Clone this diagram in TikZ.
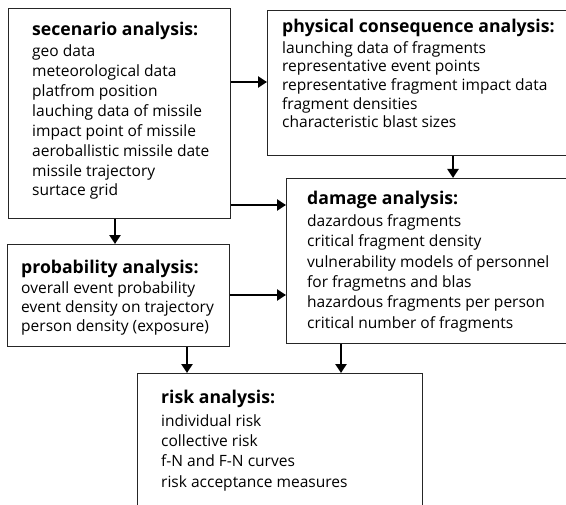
\documentclass[tikz,border=0pt]{standalone}
\usepackage{fontspec}
\setmainfont{Open Sans}
\usetikzlibrary{arrows.meta,calc}
\begin{document}
\begin{tikzpicture}[x=1bp,y=-1bp,
  box/.style={draw=black!85,line width=1.1bp,anchor=north west,inner sep=0pt},
  title/.style={anchor=base west,inner sep=0pt,font=\bfseries\fontsize{17.7}{20}\selectfont},
  % multi-line text: the base anchor sits on the last line
  body/.style={anchor=base west,inner sep=0pt,align=left,font=\fontsize{15.6}{#1}\selectfont},
  body/.default=20,
  arr/.style={line width=2.8bp,-{Triangle[width=11bp,length=9bp]}}]
\useasboundingbox (0,0) rectangle (566,505);
\clip (0,0) rectangle (566,505);

% boxes
\node[box,minimum width=222bp,minimum height=210bp] (scen) at (8,8) {};
\node[box,minimum width=320bp,minimum height=145bp] (phys) at (267,10) {};
\node[box,minimum width=300bp,minimum height=165bp] (dmg) at (286,178) {};
\node[box,minimum width=222bp,minimum height=102bp] (prob) at (7,244) {};
\node[box,minimum width=285bp,minimum height=150bp] (risk) at (137,373) {};

% texts
\node[title] (scenT) at (32,36) {secenario analysis:};
\node[body] (scenB) at (32,196) {geo data\\meteorological data\\platfrom position\\lauching data of missile\\impact point of missile\\aeroballistic missile date\\missile trajectory\\surtace grid};

\node[title] (physT) at (282,33) {physical consequence analysis:};
\node[body=18.75] (physB) at (282,128) {launching data of fragments\\representative event points\\representative fragment impact data\\fragment densities\\characteristic blast sizes};

\node[title] (dmgT) at (307,205) {damage analysis:};
\node[body=20.4] (dmgB) at (307,328) {dazardous fragments\\critical fragment density\\vulnerability models of personnel\\for fragmetns and blas\\hazardous fragments per person\\critical number of fragments};

\node[title] (probT) at (21,273) {probability analysis:};
\node[body=19] (probB) at (21,331) {overall event probability\\event density on trajectory\\person density (exposure)};

\node[title] (riskT) at (161,403) {risk analysis:};
\node[body=20.3] (riskB) at (161,487) {individual risk\\collective risk\\f-N and F-N curves\\risk acceptance measures};

% connectors
\draw[arr] ($(scen.north east)+(0,74)$) coordinate (a1) -- (a1 -| phys.west);
\draw[arr] ($(scen.north east)+(0,197)$) coordinate (a2) -- (a2 -| dmg.west);
\draw[arr] ($(prob.north east)+(0,51)$) coordinate (a3) -- (a3 -| dmg.west);
\draw[arr] ($(scen.south west)+(107,0)$) coordinate (a4) -- (a4 |- prob.north);
\draw[arr] ($(phys.south west)+(186,0)$) coordinate (a5) -- (a5 |- dmg.north);
\draw[arr] ($(prob.south west)+(180,0)$) coordinate (a6) -- (a6 |- risk.north);
\draw[arr] ($(dmg.south west)+(55,0)$) coordinate (a7) -- (a7 |- risk.north);
\end{tikzpicture}
\end{document}
